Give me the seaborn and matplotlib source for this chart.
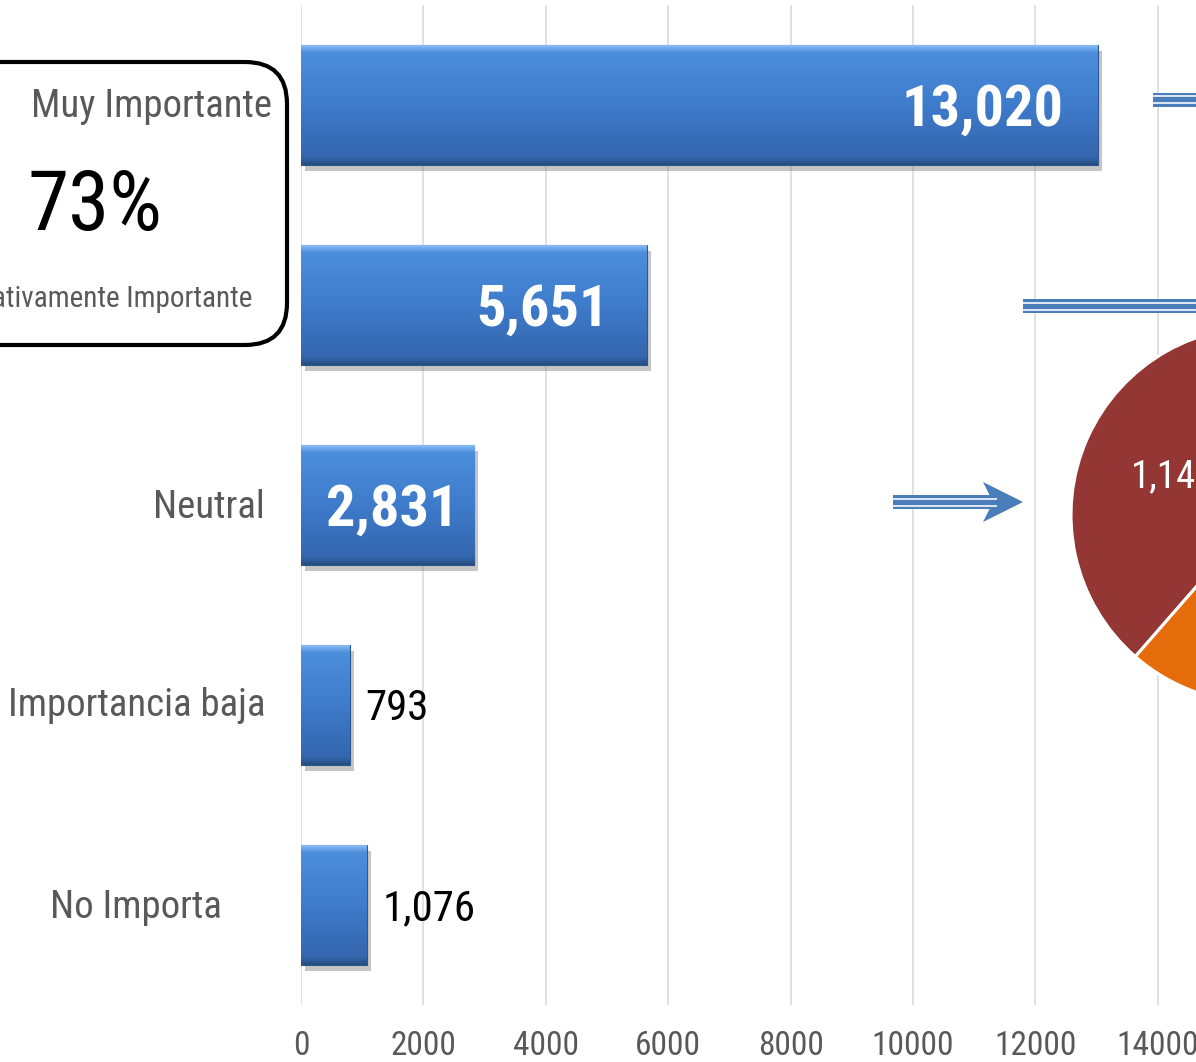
import numpy as np
import pandas as pd
import matplotlib
matplotlib.use("Agg")
import matplotlib.pyplot as plt
import seaborn as sns
from matplotlib import patheffects, transforms
from matplotlib.colors import LinearSegmentedColormap
from matplotlib.patches import FancyBboxPatch, Polygon

# datos
categorias = ["Muy Importante", "Relativamente Importante", "Neutral",
              "Importancia baja", "No Importa"]
respuestas = [13020, 5651, 2831, 793, 1076]
ticks_x = [0, 2000, 4000, 6000, 8000, 10000, 12000, 14000]
texto_caja = "73%"
# el pie solo se ve en parte (desglose de "Neutral")
pie_valores = [1147, 684, 1000]
pie_colores = ["#943634", "#E46C0A", "#77933C"]

W, H = 1196, 1062
sns.set_theme(style="whitegrid")
plt.rcParams["font.family"] = ["Roboto Condensed", "DejaVu Sans"]

fig = plt.figure(figsize=(W / 100, H / 100), dpi=100)
fig.patch.set_facecolor("white")
ax = fig.add_axes([301 / W, 57 / H, 895 / W, 1000 / H])

df = pd.DataFrame({"cat": categorias, "n": respuestas})
sns.barplot(data=df, x="n", y="cat", orient="h", color="#3D7ACA",
            width=0.6, saturation=1, ax=ax)

# barras con degradado y sombra
cmap = LinearSegmentedColormap.from_list(
    "barra", [(0, "#86BBF2"), (0.06, "#4C8EDC"), (0.5, "#3E7BCB"),
              (0.94, "#3466AD"), (1, "#264C80")])
grad = np.linspace(0, 1, 200).reshape(-1, 1)
for p in ax.patches:
    x0, y0 = p.get_x(), p.get_y()
    w, h = p.get_width(), p.get_height()
    p.set_edgecolor("#2C5890")
    p.set_linewidth(0.8)
    p.set_path_effects([patheffects.SimplePatchShadow(offset=(3, -4), shadow_rgbFace="#808080", alpha=0.45),
                        patheffects.Normal()])
    im = ax.imshow(grad, extent=[x0, x0 + w, y0 + h, y0], origin="upper",
                   aspect="auto", cmap=cmap, interpolation="bilinear",
                   zorder=p.get_zorder() + 0.1)
    im.set_clip_path(p)

ax.set_xlim(0, 895 / 122.4 * 2000)
ax.set_ylim(4.5, -0.5)
ax.set_xticks(ticks_x)
ax.set_xticklabels([str(t) for t in ticks_x])
ax.tick_params(axis="x", length=0, pad=18, labelsize=24, labelcolor="#595959")
ax.tick_params(axis="y", left=False, labelleft=False)
ax.grid(axis="x", color="#D9D9D9", linewidth=1.1)
ax.grid(axis="y", visible=False)
ax.set_axisbelow(True)
for s in ax.spines.values():
    s.set_visible(False)
ax.set_xlabel("")
ax.set_ylabel("")
ax.set_facecolor("white")

# etiquetas de valores
dentro = [-25, -27, -11]
for i, v in enumerate(respuestas):
    txt = f"{v:,}"
    if v > 2000:
        ax.annotate(txt, (v, i), xytext=(dentro[i], -0.36 * 42), textcoords="offset points",
                    ha="right", va="baseline", color="white", fontsize=42, fontweight="bold")
    else:
        ax.annotate(txt, (v, i), xytext=(11, -0.36 * 31), textcoords="offset points",
                    ha="left", va="baseline", color="black", fontsize=31)

# etiquetas de categorias
mix = transforms.blended_transform_factory(fig.transFigure, ax.transData)
borde_px = [272, 252, 265, 265, 222]
tam = [28, 21, 28, 28, 28]
sube = [1.5, 6, 0.5, 2, 0.5]
for i, c in enumerate(categorias):
    ax.annotate(c, xy=(borde_px[i] / W, i), xycoords=mix,
                xytext=(0, -0.36 * tam[i] + sube[i]), textcoords="offset points",
                ha="right", va="baseline", fontsize=tam[i], color="#595959",
                annotation_clip=False)

# pie (parcialmente fuera de la imagen)
pa = fig.add_axes([(1259 - 188) / W, (H - 703) / H, 376 / W, 376 / H], zorder=4)
pa.pie(pie_valores, colors=pie_colores, startangle=83, counterclock=True,
       autopct=lambda q: f"{q * sum(pie_valores) / 100:,.0f}", pctdistance=0.5,
       wedgeprops=dict(edgecolor="white", linewidth=2.2),
       textprops=dict(color="white", fontsize=28))
pa.set_xlim(-1, 1)
pa.set_ylim(-1, 1)
pa.set_aspect("equal")

# capa de anotaciones en pixeles
ov = fig.add_axes([0, 0, 1, 1], zorder=5)
ov.set_xlim(0, W)
ov.set_ylim(H, 0)
ov.axis("off")

caja = FancyBboxPatch((-70, 62), 357, 283, boxstyle="round,pad=0,rounding_size=42",
                      fill=False, edgecolor="black", linewidth=3)
ov.add_patch(caja)
ov.text(95, 230, texto_caja, fontsize=60, ha="center", va="baseline", color="black")

azul = "#4A7EBB"


def flecha(x0, x1, y, punta=False):
    ov.plot([x0, x1], [y, y], color=azul, lw=14 * 0.72, solid_capstyle="butt")
    for dy in (-3.4, 3.7):
        ov.plot([x0, x1], [y + dy, y + dy], color="white", lw=1.6 * 0.72, solid_capstyle="butt")
    if punta:
        ov.add_patch(Polygon([(983, y - 20), (1023, y), (983, y + 20), (993, y)],
                             closed=True, facecolor=azul, edgecolor="none"))


flecha(1153, 1200, 99.6)
flecha(1023, 1200, 306)
flecha(893, 997, 502, punta=True)

fig.savefig("out.png", dpi=100)
